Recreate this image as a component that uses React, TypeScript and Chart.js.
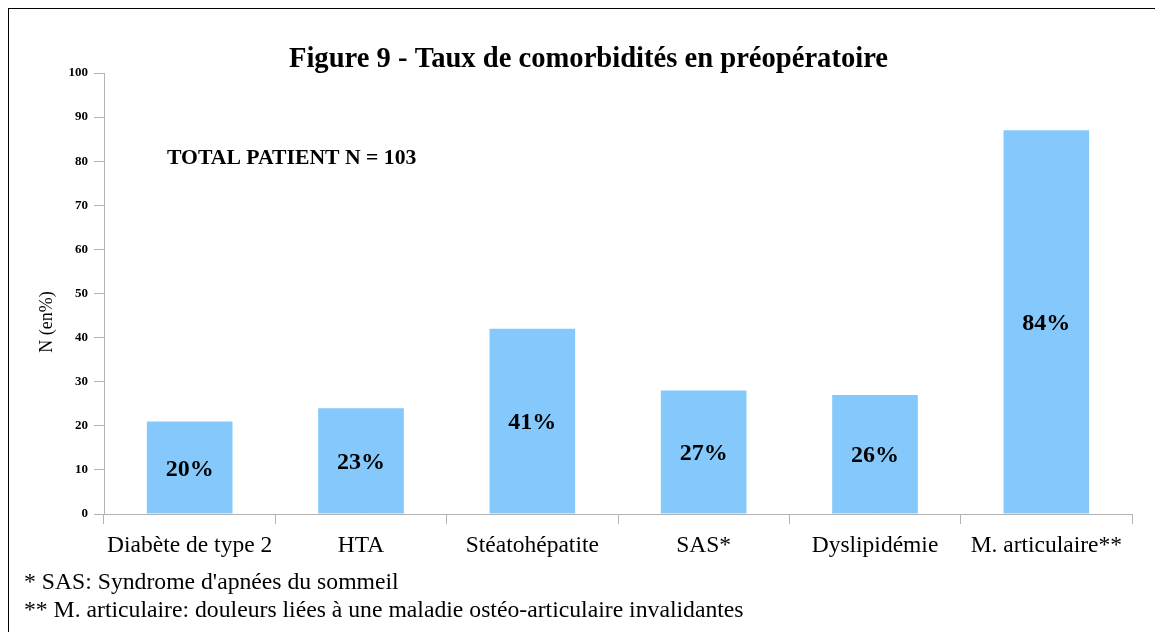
import React, { useEffect, useRef } from "react";
import { Chart, registerables } from "chart.js";

Chart.register(...registerables);

const categories = [
  "Diabète de type 2",
  "HTA",
  "Stéatohépatite",
  "SAS*",
  "Dyslipidémie",
  "M. articulaire**",
];
const values = [21, 24, 42, 28, 27, 87];
const barLabels = ["20%", "23%", "41%", "27%", "26%", "84%"];
const titleText = "Figure 9 - Taux de comorbidités en préopératoire";
const annotationText = "TOTAL PATIENT N = 103";
const yAxisTitle = "N (en%)";
const footnotes = [
  "* SAS: Syndrome d'apnées du sommeil",
  "** M. articulaire: douleurs liées à une maladie ostéo-articulaire invalidantes",
];

const SERIF = '"Liberation Serif", "Times New Roman", serif';
const W = 1154;
const H = 623;

export default function App() {
  const ref = useRef<HTMLCanvasElement | null>(null);

  useEffect(() => {
    document.body.style.overflow = "hidden";
    const canvas = ref.current;
    if (!canvas) return;

    const textPlugin = {
      id: "customText",
      afterDraw(chart: any) {
        const ctx = chart.ctx;
        ctx.save();
        // bar labels
        const meta = chart.getDatasetMeta(0);
        ctx.fillStyle = "#000";
        ctx.font = `bold 24px ${SERIF}`;
        ctx.textAlign = "center";
        ctx.textBaseline = "middle";
        meta.data.forEach((bar: any, i: number) => {
          const cy = (bar.y + bar.base) / 2 + 2;
          ctx.fillText(barLabels[i], bar.x, cy);
        });
        // title
        ctx.font = `bold 28.6px ${SERIF}`;
        ctx.fillText(titleText, 579.5, 51);
        // annotation
        ctx.font = `bold 21.7px ${SERIF}`;
        ctx.textAlign = "left";
        ctx.fillText(annotationText, 158, 149);
        // footnotes
        ctx.font = `23.7px ${SERIF}`;
        ctx.fillText(footnotes[0], 15, 574);
        ctx.fillText(footnotes[1], 15, 602);
        // y axis title
        ctx.save();
        ctx.translate(38, 313);
        ctx.rotate(-Math.PI / 2);
        ctx.textAlign = "center";
        ctx.font = `18px ${SERIF}`;
        ctx.fillText(yAxisTitle, 0, 0);
        ctx.restore();
        ctx.restore();
      },
    };

    const chart = new Chart(canvas, {
      type: "bar",
      data: {
        labels: categories,
        datasets: [
          {
            data: values,
            backgroundColor: "#85C9FC",
            borderWidth: 0,
            barPercentage: 0.5,
            categoryPercentage: 1,
          },
        ],
      },
      options: {
        responsive: false,
        animation: false,
        layout: { padding: { left: 0, right: 31, top: 64, bottom: 58 } },
        plugins: {
          legend: { display: false },
          title: { display: false },
          tooltip: { enabled: false },
        },
        scales: {
          x: {
            afterFit: (scale: any) => {
              scale.height = 60;
            },
            grid: {
              display: true,
              drawOnChartArea: false,
              drawTicks: true,
              tickLength: 10,
              color: "#b3b3b3",
              offset: true,
            },
            border: { display: true, color: "#b3b3b3", width: 1 },
            ticks: {
              color: "#000",
              font: { family: SERIF, size: 23.5 },
              padding: 8,
              maxRotation: 0,
              autoSkip: false,
            },
          },
          y: {
            min: 0,
            max: 100,
            afterFit: (scale: any) => {
              scale.width = 95;
            },
            grid: {
              display: true,
              drawOnChartArea: false,
              drawTicks: true,
              tickLength: 10,
              color: "#b3b3b3",
            },
            border: { display: true, color: "#b3b3b3", width: 1 },
            ticks: {
              stepSize: 10,
              color: "#000",
              font: { family: SERIF, size: 13, weight: "bold" },
              padding: 6,
            },
          },
        },
      },
      plugins: [textPlugin],
    });

    return () => chart.destroy();
  }, []);

  return (
    <div
      style={{
        borderTop: "1px solid #000",
        borderLeft: "1px solid #000",
        width: 1300,
        height: 700,
        background: "#fff",
      }}
    >
      <canvas
        ref={ref}
        width={W}
        height={H}
        style={{ display: "block", width: W, height: H }}
      />
    </div>
  );
}
